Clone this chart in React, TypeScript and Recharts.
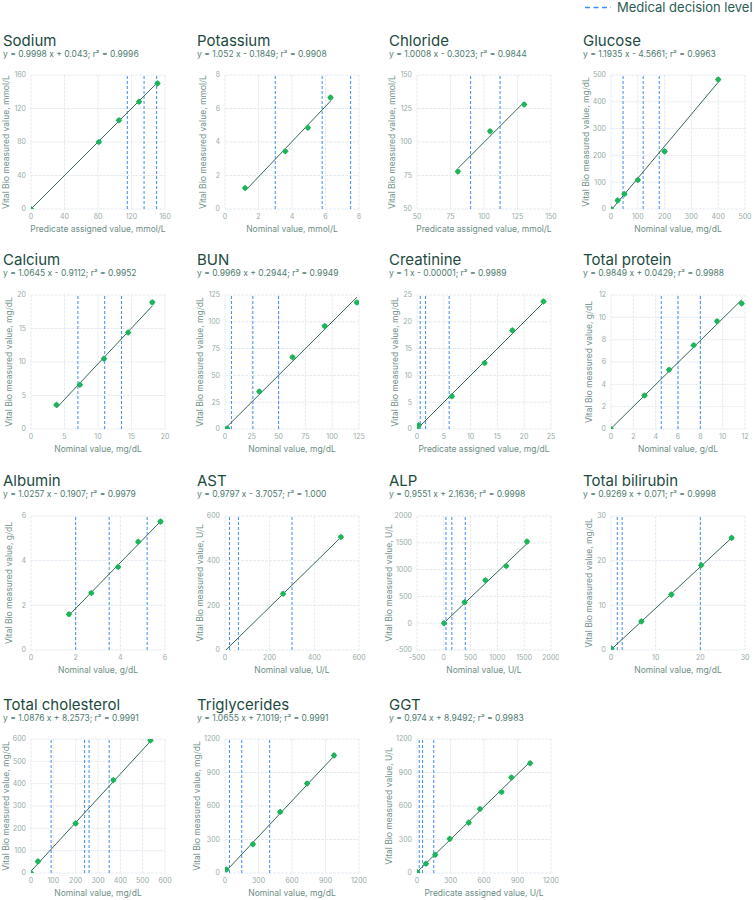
import React from 'react';
import { ScatterChart, Scatter, XAxis, YAxis, CartesianGrid, ReferenceLine } from 'recharts';

// ---------- data ----------
const titles = ['Sodium', 'Potassium', 'Chloride', 'Glucose', 'Calcium', 'BUN', 'Creatinine', 'Total protein', 'Albumin', 'AST', 'ALP', 'Total bilirubin', 'Total cholesterol', 'Triglycerides', 'GGT'];

const equations = [
  'y = 0.9998 x + 0.043; r² = 0.9996',
  'y = 1.052 x - 0.1849; r² = 0.9908',
  'y = 1.0008 x - 0.3023; r² = 0.9844',
  'y = 1.1935 x - 4.5661; r² = 0.9963',
  'y = 1.0645 x - 0.9112; r² = 0.9952',
  'y = 0.9969 x + 0.2944; r² = 0.9949',
  'y = 1 x - 0.00001; r² = 0.9989',
  'y = 0.9849 x + 0.0429; r² = 0.9988',
  'y = 1.0257 x - 0.1907; r² = 0.9979',
  'y = 0.9797 x - 3.7057; r² = 1.000',
  'y = 0.9551 x + 2.1636; r² = 0.9998',
  'y = 0.9269 x + 0.071; r² = 0.9998',
  'y = 1.0876 x + 8.2573; r² = 0.9991',
  'y = 1.0655 x + 7.1019; r² = 0.9991',
  'y = 0.974 x + 8.9492; r² = 0.9983',
];

const slopes = [0.9998, 1.052, 1.0008, 1.1935, 1.0645, 0.9969, 1, 0.9849, 1.0257, 0.9797, 0.9551, 0.9269, 1.0876, 1.0655, 0.974];
const intercepts = [0.043, -0.1849, -0.3023, -4.5661, -0.9112, 0.2944, -0.00001, 0.0429, -0.1907, -3.7057, 2.1636, 0.071, 8.2573, 7.1019, 8.9492];

const xLabels = [
  'Predicate assigned value, mmol/L', 'Nominal value, mmol/L', 'Predicate assigned value, mmol/L', 'Nominal value, mg/dL',
  'Nominal value, mg/dL', 'Nominal value, mg/dL', 'Predicate assigned value, mg/dL', 'Nominal value, g/dL',
  'Nominal value, g/dL', 'Nominal value, U/L', 'Nominal value, U/L', 'Nominal value, mg/dL',
  'Nominal value, mg/dL', 'Nominal value, mg/dL', 'Predicate assigned value, U/L',
];

const yUnits = ['mmol/L', 'mmol/L', 'mmol/L', 'mg/dL', 'mg/dL', 'mg/dL', 'mg/dL', 'g/dL', 'g/dL', 'U/L', 'U/L', 'mg/dL', 'mg/dL', 'mg/dL', 'U/L'];

const ticks = [
  [0, 40, 80, 120, 160],
  [0, 2, 4, 6, 8],
  [50, 75, 100, 125, 150],
  [0, 100, 200, 300, 400, 500],
  [0, 5, 10, 15, 20],
  [0, 25, 50, 75, 100, 125],
  [0, 5, 10, 15, 20, 25],
  [0, 2, 4, 6, 8, 10, 12],
  [0, 2, 4, 6],
  [0, 200, 400, 600],
  [-500, 0, 500, 1000, 1500, 2000],
  [0, 10, 20, 30],
  [0, 100, 200, 300, 400, 500, 600],
  [0, 300, 600, 900, 1200],
  [0, 300, 600, 900, 1200],
];

const decisionLevels = [
  [115, 135, 150],
  [3.0, 5.8, 7.5],
  [90, 112],
  [45, 120, 180],
  [7, 11, 13.5],
  [6, 26, 50],
  [0.6, 1.6, 6],
  [4.5, 6, 8],
  [2, 3.5, 5.2],
  [20, 60, 300],
  [40, 150, 400],
  [1.4, 2.5, 20],
  [90, 240, 260, 350],
  [40, 150, 400],
  [20, 50, 150],
];

const sodiumPts = [[0, 0], [81, 80], [105, 106], [129, 128], [151, 150]];
const potassiumPts = [[1.2, 1.25], [3.6, 3.45], [4.95, 4.85], [6.3, 6.65]];
const chloridePts = [[80.5, 78], [104.5, 108], [130, 128]];
const glucosePts = [[0, 0], [25, 32], [50, 56], [100, 108], [200, 215], [400, 483]];
const calciumPts = [[3.8, 3.6], [7.3, 6.6], [10.9, 10.5], [14.5, 14.4], [18.1, 18.9]];
const bunPts = [[2, 0.5], [32, 35], [63, 67], [93, 96], [123, 118]];
const creatininePts = [[0, 0], [0.3, 0.7], [6.5, 6.1], [12.6, 12.3], [17.8, 18.4], [23.6, 23.8]];
const proteinPts = [[0, 0], [3, 3], [5.2, 5.3], [7.4, 7.5], [9.5, 9.65], [11.7, 11.25]];
const albuminPts = [[1.7, 1.6], [2.7, 2.55], [3.9, 3.72], [4.8, 4.85], [5.8, 5.75]];
const astPts = [[260, 252], [519, 506]];
const alpPts = [[5, 0], [388, 391], [776, 801], [1164, 1068], [1552, 1522]];
const bilirubinPts = [[0.1, 0.3], [6.8, 6.4], [13.5, 12.4], [20.2, 19], [27, 25.1]];
const cholesterolPts = [[0, 0], [31, 52], [200, 222], [369, 416], [535, 594]];
const triglyceridePts = [[12, 32], [250, 257], [494, 547], [735, 802], [976, 1053]];
const ggtPts = [[3, 6], [80, 83], [163, 163], [294, 306], [463, 451], [564, 573], [757, 725], [846, 855], [1013, 983]];

const allPoints = [sodiumPts, potassiumPts, chloridePts, glucosePts, calciumPts, bunPts, creatininePts, proteinPts, albuminPts, astPts, alpPts, bilirubinPts, cholesterolPts, triglyceridePts, ggtPts];

// x-range of regression line
const lineRanges = [
  [0, 151], [1.2, 6.3], [80.5, 130], [0, 400], [3.8, 18.1], [2, 123], [0, 23.6], [0, 11.7],
  [1.7, 5.8], [4, 519], [5, 1552], [0.1, 27], [0, 535], [12, 976], [3, 1013],
];

// ---------- layout ----------
const COL_LEFT = [31, 225, 417, 611];
const ROW_TOP = [75, 294.5, 515.5, 739];
const PW = 134;
const PH = 134;
const AXW = 40;
const TOPM = 8;
const RIGHTM = 8;
const AXH = 36;

const TITLE_C = '#1c4a40';
const SUB_C = '#4f7b6f';
const TICK_C = '#98aba5';
const LABEL_C = '#6d8e85';
const GRID_C = '#e6ebf0';
const REF_C = '#3e8ef0';
const LINE_C = '#35665b';
const DOT_C = '#1fb45c';
const FONT = 'Inter, "Noto Sans", sans-serif';

const Marker = (props: any) => {
  const { cx, cy } = props;
  if (cx == null || cy == null) return null;
  const r = 3.3;
  const s = 2.0;
  return (
    <g>
      <path d={`M${cx},${cy - r}L${cx + r},${cy}L${cx},${cy + r}L${cx - r},${cy}Z`} fill={DOT_C} />
      <rect x={cx - s} y={cy - s} width={2 * s} height={2 * s} fill={DOT_C} />
    </g>
  );
};

function Panel({ i }: { i: number }) {
  const col = i % 4;
  const row = Math.floor(i / 4);
  const plotLeft = COL_LEFT[col];
  const plotTop = ROW_TOP[row];
  const t = ticks[i];
  const dom: [number, number] = [t[0], t[t.length - 1]];
  const data = allPoints[i].map(([x, y]) => ({ x, y }));
  const [x0, x1] = lineRanges[i];
  const seg = [
    { x: x0, y: slopes[i] * x0 + intercepts[i] },
    { x: x1, y: slopes[i] * x1 + intercepts[i] },
  ];
  const maxLen = Math.max(...t.map((v) => String(v).length));
  const yOff = maxLen >= 4 ? 28 : maxLen === 3 ? 25 : 22;
  return (
    <div style={{ position: 'absolute', left: plotLeft - AXW, top: plotTop - TOPM }}>
      <ScatterChart
        width={AXW + PW + RIGHTM}
        height={TOPM + PH + AXH}
        margin={{ top: TOPM, right: RIGHTM, bottom: 0, left: 0 }}
      >
        <CartesianGrid stroke={GRID_C} strokeDasharray="3 1" />
        <XAxis
          type="number"
          dataKey="x"
          domain={dom}
          ticks={t}
          interval={0}
          allowDataOverflow
          height={AXH}
          tickLine={false}
          axisLine={false}
          tickSize={0}
          tickMargin={5}
          tick={{ fontSize: 7, fill: TICK_C }}
          label={{ value: xLabels[i], position: 'insideBottom', offset: 13, fontSize: 8.5, fill: LABEL_C }}
        />
        <YAxis
          type="number"
          dataKey="y"
          domain={dom}
          ticks={t}
          interval={0}
          allowDataOverflow
          width={AXW}
          tickLine={false}
          axisLine={false}
          tickSize={0}
          tickMargin={5}
          tick={{ fontSize: 7, fill: TICK_C }}
          label={{
            value: 'Vital Bio measured value, ' + yUnits[i],
            angle: -90,
            position: 'insideLeft',
            offset: AXW - yOff,
            fontSize: 8.5,
            fill: LABEL_C,
            style: { textAnchor: 'middle' },
          }}
        />
        {decisionLevels[i].map((v, k) => (
          <ReferenceLine key={k} x={v} stroke={REF_C} strokeWidth={1} strokeDasharray="3 2" />
        ))}
        <ReferenceLine segment={seg} stroke={LINE_C} strokeWidth={1} ifOverflow="hidden" />
        <Scatter data={data} shape={Marker} isAnimationActive={false} />
      </ScatterChart>
    </div>
  );
}

export default function App() {
  return (
    <div style={{ position: 'absolute', left: 0, top: 0, width: 755, height: 900, background: '#fff', fontFamily: FONT }}>
      <svg width={755} height={900} style={{ position: 'absolute', left: 0, top: 0 }}>
        <line x1={585} y1={7.5} x2={611} y2={7.5} stroke={REF_C} strokeWidth={1.5} strokeDasharray="5 3.5" />
        <text x={617} y={12} fontSize={13} fill="#2b5c52" fontFamily={FONT}>Medical decision level</text>
        {titles.map((tt, i) => {
          const col = i % 4;
          const row = Math.floor(i / 4);
          const x = COL_LEFT[col] - 28;
          const top = ROW_TOP[row];
          return (
            <g key={i}>
              <text x={x} y={top - 29.3} fontSize={15} fill={TITLE_C} fontFamily={FONT}>{tt}</text>
              <text x={x} y={top - 18.5} fontSize={8.5} fill={SUB_C} fontFamily={FONT}>{equations[i]}</text>
            </g>
          );
        })}
      </svg>
      {titles.map((_, i) => (
        <Panel key={i} i={i} />
      ))}
    </div>
  );
}
